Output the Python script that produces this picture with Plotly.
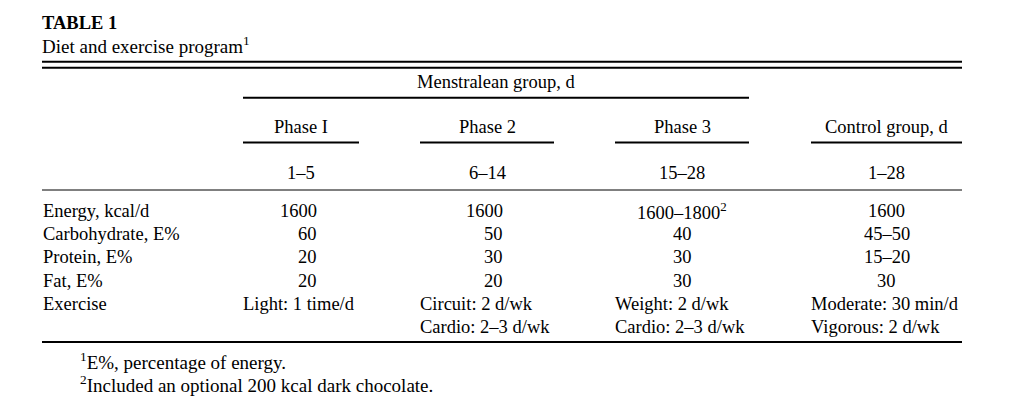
import plotly.graph_objects as go

# table content
title = "TABLE 1"
subtitle = "Diet and exercise program<sup>1</sup>"
group_label = "Menstralean group, d"
col_names = ["Phase I", "Phase 2", "Phase 3", "Control group, d"]
col_days = ["1–5", "6–14", "15–28", "1–28"]
row_labels = ["Energy, kcal/d", "Carbohydrate, E%", "Protein, E%", "Fat, E%", "Exercise", ""]
phase1 = ["1600", "60", "20", "20", "Light: 1 time/d", ""]
phase2 = ["1600", "50", "30", "20", "Circuit: 2 d/wk", "Cardio: 2–3 d/wk"]
phase3 = ["1600–1800<sup>2</sup>", "40", "30", "30", "Weight: 2 d/wk", "Cardio: 2–3 d/wk"]
control = ["1600", "45–50", "15–20", "30", "Moderate: 30 min/d", "Vigorous: 2 d/wk"]
footnotes = ["<sup>1</sup>E%, percentage of energy.",
             "<sup>2</sup>Included an optional 200 kcal dark chocolate."]

W, H = 1012, 401
PAD = 8  # page body margin in the browser
FONT = "Liberation Serif"
FS = 18.5
left, right = 42, 962
spans = [(243, 359), (420, 554), (615, 749), (811, 962)]
# phase I / 2 numbers are right aligned under the 4-digit value, others centred
num_align = ["right", "right", "center", "center"]
row_y0, row_dy = 211, 23.2

fig = go.Figure()
shapes = []
ann = []


def txt(x, y, s, anchor="left", size=FS, bold=False):
    # annotations carry ~2px of padding on the anchored side
    if anchor == "left":
        x -= 2
    elif anchor == "right":
        x += 1
    ann.append(dict(x=x, y=y, xref="x", yref="y", text=("<b>%s</b>" % s) if bold else s,
                    showarrow=False, xanchor=anchor, yanchor="middle",
                    font=dict(family=FONT, size=size, color="black")))


def rule(x0, x1, y, w):
    shapes.append(dict(type="line", xref="x", yref="y", x0=x0, x1=x1, y0=y, y1=y,
                       line=dict(color="black", width=w)))


txt(left, 23, title, size=18.5, bold=True)
txt(left, 45, subtitle, size=19)

rule(left, right, 61.7, 2)
rule(left, right, 67.7, 2)

txt((spans[0][0] + spans[2][1]) / 2, 82, group_label, "center")
rule(spans[0][0], spans[2][1], 97.7, 2)

for (a, b), name, days in zip(spans, col_names, col_days):
    c = (a + b) / 2
    txt(c, 127, name, "center")
    rule(a, b, 142.5, 2)
    txt(c, 173, days, "center")

rule(left, right, 190, 1)

columns = [phase1, phase2, phase3, control]
for i, lab in enumerate(row_labels):
    y = row_y0 + i * row_dy
    if lab:
        txt(left + 1, y, lab)
    for (a, b), col, al in zip(spans, columns, num_align):
        v = col[i]
        if not v:
            continue
        c = (a + b) / 2
        if i >= 4:
            txt(a, y, v, "left")
        elif al == "right":
            txt(c + 17, y, v, "right")
        else:
            txt(c, y, v, "center")

rule(left, right, 342, 2)

for j, f in enumerate(footnotes):
    txt(80, 361 + j * 23, f, size=19)

fig.update_layout(
    width=W - PAD, height=H - PAD, margin=dict(l=0, r=0, t=0, b=0),
    paper_bgcolor="white", plot_bgcolor="white",
    xaxis=dict(range=[PAD, W], visible=False, fixedrange=True),
    yaxis=dict(range=[H, PAD], visible=False, fixedrange=True),
    shapes=shapes, annotations=ann, showlegend=False,
)

fig.write_html("out.html")
